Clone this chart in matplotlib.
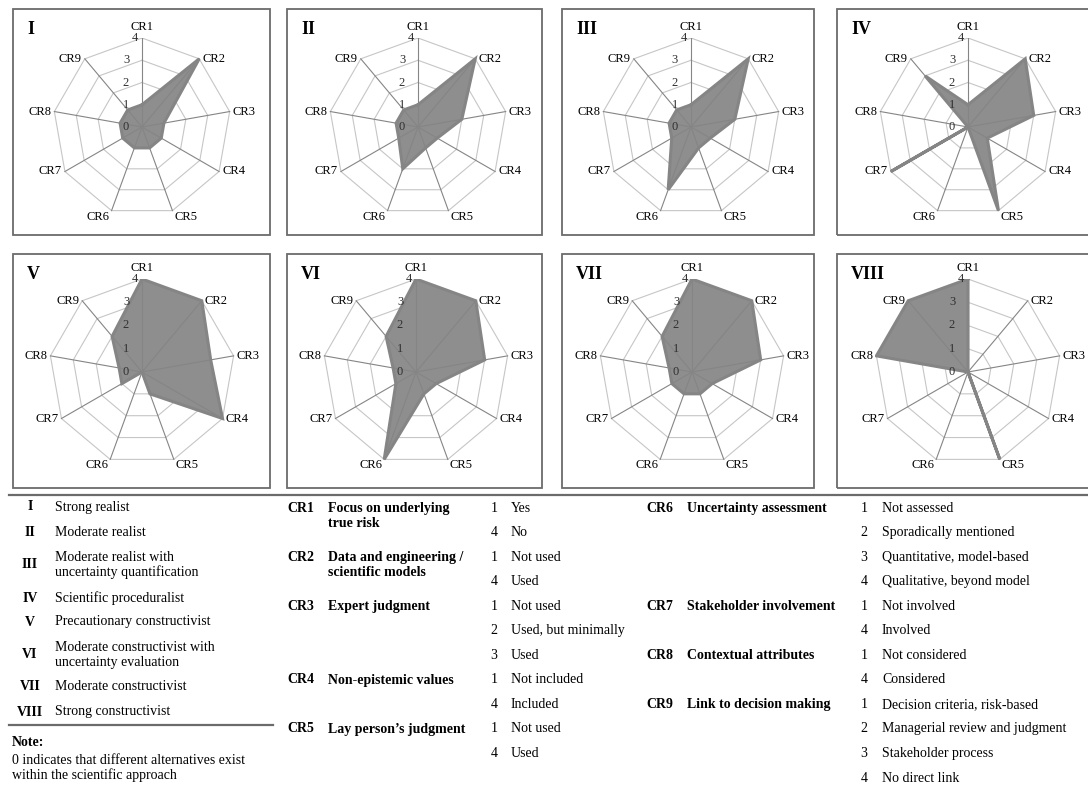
import numpy as np
import matplotlib
matplotlib.use('Agg')
import matplotlib.pyplot as plt
from matplotlib.patches import Rectangle
from matplotlib.lines import Line2D

plt.rcParams['font.family'] = ['Liberation Serif', 'DejaVu Serif']

W, H = 1088, 785

# criteria and the eight perspectives (scores 0..4 on CR1..CR9)
criteria = ['CR1', 'CR2', 'CR3', 'CR4', 'CR5', 'CR6', 'CR7', 'CR8', 'CR9']
panel_ids = ['I', 'II', 'III', 'IV', 'V', 'VI', 'VII', 'VIII']
strong_realist = [1, 4, 1, 1, 1, 1, 1, 1, 1]
moderate_realist = [1, 4, 2, 1, 1, 2, 1, 1, 1]
moderate_realist_uq = [1, 4, 2, 1, 1, 3, 1, 1, 1]
scientific_proceduralist = [1, 4, 3, 1, 4, 0, 4, 0, 3]
precautionary_constructivist = [4, 4, 3, 4, 1, 0, 1, 1, 2]
moderate_constructivist_ue = [4, 4, 3, 1, 1, 4, 1, 1, 2]
moderate_constructivist = [4, 4, 3, 1, 1, 1, 1, 1, 2]
strong_constructivist = [4, 0, 0, 0, 4, 0, 0, 4, 4]
radial_ticks = [0, 1, 2, 3, 4]

# legend table below the charts
perspective_names = ['Strong realist', 'Moderate realist',
                     'Moderate realist with\nuncertainty quantification',
                     'Scientific proceduralist', 'Precautionary constructivist',
                     'Moderate constructivist with\nuncertainty evaluation',
                     'Moderate constructivist', 'Strong constructivist']
criteria_names = ['Focus on underlying\ntrue risk', 'Data and engineering /\nscientific models',
                  'Expert judgment', 'Non-epistemic values', "Lay person\u2019s judgment",
                  'Uncertainty assessment', 'Stakeholder involvement',
                  'Contextual attributes', 'Link to decision making']
criteria_levels = [
    [(1, 'Yes'), (4, 'No')],
    [(1, 'Not used'), (4, 'Used')],
    [(1, 'Not used'), (2, 'Used, but minimally'), (3, 'Used')],
    [(1, 'Not included'), (4, 'Included')],
    [(1, 'Not used'), (4, 'Used')],
    [(1, 'Not assessed'), (2, 'Sporadically mentioned'),
     (3, 'Quantitative, model-based'), (4, 'Qualitative, beyond model')],
    [(1, 'Not involved'), (4, 'Involved')],
    [(1, 'Not considered'), (4, 'Considered')],
    [(1, 'Decision criteria, risk-based'), (2, 'Managerial review and judgment'),
     (3, 'Stakeholder process'), (4, 'No direct link')],
]
note_title = 'Note:'
note_text = '0 indicates that different alternatives exist\nwithin the scientific approach'

all_scores = [strong_realist, moderate_realist, moderate_realist_uq,
              scientific_proceduralist, precautionary_constructivist,
              moderate_constructivist_ue, moderate_constructivist,
              strong_constructivist]


def fx(x):
    return x / W


def fy(y):
    return 1 - y / H


def radar(ax, values):
    n = len(criteria)
    ang = np.arange(n) * 2 * np.pi / n
    ca = np.append(ang, ang[0])
    for r in radial_ticks[1:]:
        ax.plot(r * np.sin(ca), r * np.cos(ca), color='#c6c6c6', lw=0.8, zorder=1)
    v = np.append(values, values[0])
    ax.fill(v * np.sin(ca), v * np.cos(ca), color='#8e8e8e', zorder=2, lw=0)
    ax.plot(v * np.sin(ca), v * np.cos(ca), color='#858585', lw=2.2, zorder=3,
            solid_joinstyle='miter')
    rmax = radial_ticks[-1]
    for a in ang:
        ax.plot([0, rmax * np.sin(a)], [0, rmax * np.cos(a)], color='#858585',
                lw=0.8, zorder=4)
    # axis labels outside the outer ring
    for a, lab in zip(ang, criteria):
        s, c = np.sin(a), np.cos(a)
        if abs(s) < 0.1:
            ha, va, off = 'center', 'bottom', (0, 5)
        elif s > 0:
            ha = 'left'
            va = 'top' if c < -0.8 else 'center'
            off = (2, 0) if c < -0.8 else (3, 0)
        else:
            ha = 'right'
            va = 'top' if c < -0.8 else 'center'
            off = (-2, 0) if c < -0.8 else (-3, 0)
        ax.annotate(lab, xy=(rmax * s, rmax * c), xytext=off,
                    textcoords='offset pixels', ha=ha, va=va, fontsize=9,
                    zorder=6)
    for r in radial_ticks:
        dx = -7 if r == rmax else -16
        ax.annotate(str(r), xy=(0, r), xytext=(dx, 0), textcoords='offset pixels',
                    ha='center', va='center', fontsize=9, color='#303030', zorder=6)


fig = plt.figure(figsize=(W / 100, H / 100), dpi=100)

box_left = [13, 287, 562, 837]
box_right = [270, 542, 814, 1100]
rows = [dict(top=9, bottom=235, cy=127, R=89, cx=[142, 418, 691, 968]),
        dict(top=254, bottom=488, cy=372, R=93, cx=[142, 416, 692, 968])]

for i, (pid, scores) in enumerate(zip(panel_ids, all_scores)):
    row = rows[i // 4]
    col = i % 4
    x0, x1 = box_left[col], box_right[col]
    fig.add_artist(Rectangle((fx(x0), fy(row['bottom'])), (x1 - x0) / W,
                             (row['bottom'] - row['top']) / H,
                             transform=fig.transFigure, fill=False,
                             ec='#6b6b6b', lw=1.3))
    fig.text(fx(x0 + 14), fy(row['top'] + 12), pid, fontsize=13,
             fontweight='bold', ha='left', va='top')
    cx, cy, R = row['cx'][col], row['cy'], row['R']
    ax = fig.add_axes([fx(cx - R), fy(cy + R), 2 * R / W, 2 * R / H])
    ax.set_xlim(-4, 4)
    ax.set_ylim(-4, 4)
    ax.axis('off')
    radar(ax, scores)

# rules of the table
fig.add_artist(Line2D([fx(9), fx(1088)], [fy(495), fy(495)],
                      transform=fig.transFigure, color='#6b6b6b', lw=1.6))
fig.add_artist(Line2D([fx(9), fx(273)], [fy(725), fy(725)],
                      transform=fig.transFigure, color='#6b6b6b', lw=1.6))

fs = 10
# left column: perspectives
left_y = [507, 532, 565, 598, 622, 655, 687, 712]
for pid, name, y in zip(panel_ids, perspective_names, left_y):
    fig.text(fx(30), fy(y), pid, ha='center', va='center', fontsize=fs,
             fontweight='bold')
    fig.text(fx(55), fy(y), name, ha='left', va='center', fontsize=fs,
             linespacing=1.15)

fig.text(fx(12), fy(743), note_title, ha='left', va='center', fontsize=fs,
         fontweight='bold')
fig.text(fx(12), fy(768), note_text, ha='left', va='center', fontsize=fs,
         linespacing=1.2)

# criteria columns
row_h = 24.55
y0 = 508
cols = [dict(code=287, desc=328, num=494, lev=511, items=range(0, 5)),
        dict(code=646, desc=687, num=864, lev=882, items=range(5, 9))]
for col in cols:
    k = 0
    for idx in col['items']:
        y = y0 + k * row_h
        fig.text(fx(col['code']), fy(y), criteria[idx], ha='left', va='center',
                 fontsize=fs, fontweight='bold')
        # first line of the description sits on the row, the rest wraps below
        fig.text(fx(col['desc']), fy(y - 6), criteria_names[idx], ha='left',
                 va='top', fontsize=fs, fontweight='bold', linespacing=1.2)
        for num, lev in criteria_levels[idx]:
            yy = y0 + k * row_h
            fig.text(fx(col['num']), fy(yy), str(num), ha='center', va='center',
                     fontsize=fs)
            fig.text(fx(col['lev']), fy(yy), lev, ha='left', va='center',
                     fontsize=fs)
            k += 1

fig.savefig('out.png', dpi=100, facecolor='white')
